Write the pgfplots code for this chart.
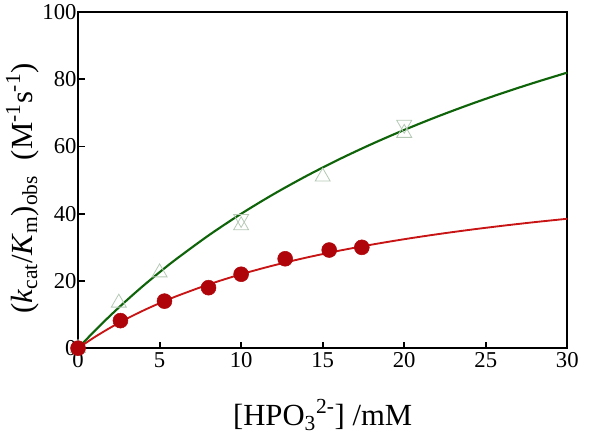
\documentclass[border=0pt]{standalone}
\usepackage{fontspec}
\setmainfont{Liberation Serif}
\usepackage{pgfplots}
\pgfplotsset{compat=1.18}

\definecolor{fitgreen}{RGB}{15,100,10}
\definecolor{fitred}{RGB}{200,20,20}
\definecolor{dotred}{RGB}{175,5,10}
\definecolor{trigreen}{RGB}{180,200,180}

\begin{document}
\begin{tikzpicture}
\begin{axis}[
    scale only axis,
    width=366.75pt,
    height=252pt,
    xmin=0, xmax=30,
    ymin=0, ymax=100,
    xtick={0,5,...,30},
    ytick={0,20,...,100},
    tick align=inside,
    xtick pos=bottom,
    ytick pos=left,
    major tick length=5pt,
    axis line style={line width=1.6pt},
    every tick/.style={black,line width=1.4pt},
    tick label style={font=\fontsize{17}{17}\selectfont},
    yticklabel style={inner sep=1pt},
    /pgf/number format/assume math mode=true,
    xlabel={[HPO\textsubscript{3}\textsuperscript{2-}] /mM},
    ylabel={(\textit{k}\textsubscript{cat}/\textit{K}\textsubscript{m})\textsubscript{obs}\ \ (M\textsuperscript{-1}s\textsuperscript{-1})},
    label style={font=\fontsize{23}{23}\selectfont},
    xlabel style={at={(axis description cs:0.5,-0.199)}, anchor=center},
    ylabel style={at={(axis description cs:-0.114,0.475)}, anchor=center},
    clip=false,
]
% fitted curve, green
\addplot[fitgreen, line width=1.6pt, smooth] coordinates {
    (0,0) (1,5.05) (2,9.81) (3,14.31) (4,18.57) (5,22.60) (6,26.43)
    (8,33.53) (10,39.98) (12,45.85) (14,51.22) (16,56.16) (18,60.71)
    (20,64.92) (22,68.83) (24,72.46) (26,75.85) (28,79.01) (30,81.98)
};
% fitted curve, red
\addplot[fitred, line width=1.4pt, smooth] coordinates {
    (0,0) (1,3.24) (2,6.16) (3,8.80) (4,11.20) (5,13.39) (6,15.40)
    (8,18.95) (10,22.0) (12,24.64) (14,26.95) (16,28.99) (18,30.8)
    (20,32.42) (22,33.88) (24,35.2) (26,36.4) (28,37.5) (30,38.5)
};
% open triangles, up
\addplot[only marks, mark=triangle, mark size=6.5pt,
    mark options={draw=trigreen, line width=0.6pt, fill=none}] coordinates {
    (0,0) (2.5,13.5) (5,22.5) (10,36.5) (15,51) (20,64)
};
% open triangles, down
\addplot[only marks, mark=triangle, mark size=6.5pt,
    mark options={draw=trigreen, line width=0.6pt, fill=none, rotate=180}] coordinates {
    (10,38.5) (20,66.5)
};
% filled circles
\addplot[only marks, mark=*, mark size=5.6pt,
    mark options={draw=dotred, fill=dotred}] coordinates {
    (0,0) (2.6,8.2) (5.3,14) (8.0,18) (10.0,22) (12.7,26.6) (15.4,29.2) (17.4,30)
};
\end{axis}
\pgfresetboundingbox
\path[use as bounding box]
    ([xshift=-58.5pt,yshift=-71pt]current axis.south west)
    rectangle ([xshift=26pt,yshift=9pt]current axis.north east);
\end{tikzpicture}
\end{document}
